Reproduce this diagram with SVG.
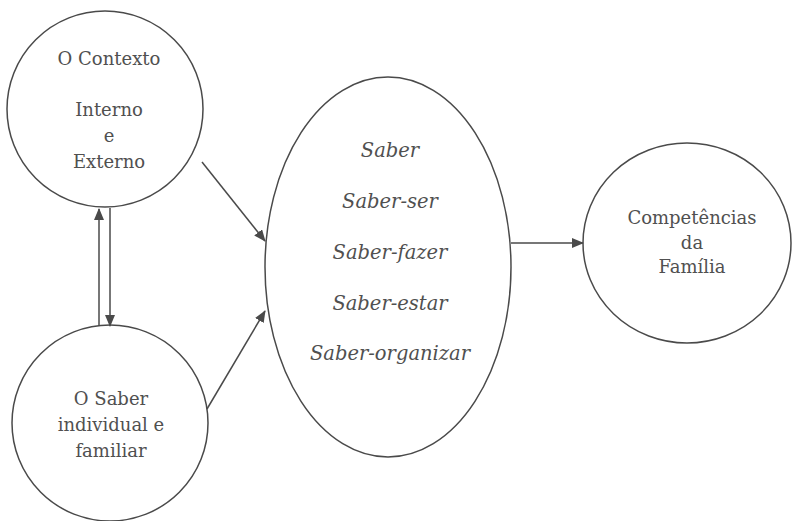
<svg xmlns="http://www.w3.org/2000/svg" width="793" height="521" viewBox="0 0 793 521">
  <style>
    .node { fill: none; stroke: #4a4a4a; stroke-width: 1.5; }
    .edge { fill: none; stroke: #4a4a4a; stroke-width: 1.5; marker-end: url(#arrow); }
    text { font-family: 'DejaVu Serif', serif; font-size: 18px; fill: #505050; text-anchor: middle; }
    text.it { font-style: italic; font-size: 19.5px; }
  </style>
  <defs>
    <marker id="arrow" viewBox="0 0 12 10" refX="11" refY="5" markerWidth="12" markerHeight="10" markerUnits="userSpaceOnUse" orient="auto">
      <path d="M0,0 L12,5 L0,10 Z" fill="#4a4a4a"/>
    </marker>
  </defs>
  <rect width="793" height="521" fill="#ffffff"/>

  <g id="contexto">
    <circle class="node" cx="105" cy="109" r="98"/>
    <text x="109" y="65">O Contexto</text>
    <text x="109" y="116">Interno</text>
    <text x="109" y="142">e</text>
    <text x="109" y="168">Externo</text>
  </g>

  <g id="saber-individual">
    <circle class="node" cx="110" cy="423" r="98"/>
    <text x="111" y="405">O Saber</text>
    <text x="111" y="431">individual e</text>
    <text x="111" y="457">familiar</text>
  </g>

  <g id="saberes">
    <ellipse class="node" cx="388" cy="267" rx="123" ry="190"/>
    <text class="it" x="390" y="157">Saber</text>
    <text class="it" x="390" y="208">Saber-ser</text>
    <text class="it" x="390" y="259">Saber-fazer</text>
    <text class="it" x="390" y="310">Saber-estar</text>
    <text class="it" x="390" y="360">Saber-organizar</text>
  </g>

  <g id="competencias">
    <ellipse class="node" cx="687" cy="243" rx="104" ry="100"/>
    <text x="692" y="224">Competências</text>
    <text x="692" y="249">da</text>
    <text x="692" y="273">Família</text>
  </g>

  <g id="connectors">
    <line class="edge" x1="99" y1="326" x2="99" y2="209"/>
    <line class="edge" x1="110" y1="208" x2="110" y2="326"/>
    <line class="edge" x1="202" y1="162" x2="265" y2="241"/>
    <line class="edge" x1="207" y1="409" x2="265" y2="311"/>
    <line class="edge" x1="511" y1="243" x2="583" y2="243"/>
  </g>
</svg>
